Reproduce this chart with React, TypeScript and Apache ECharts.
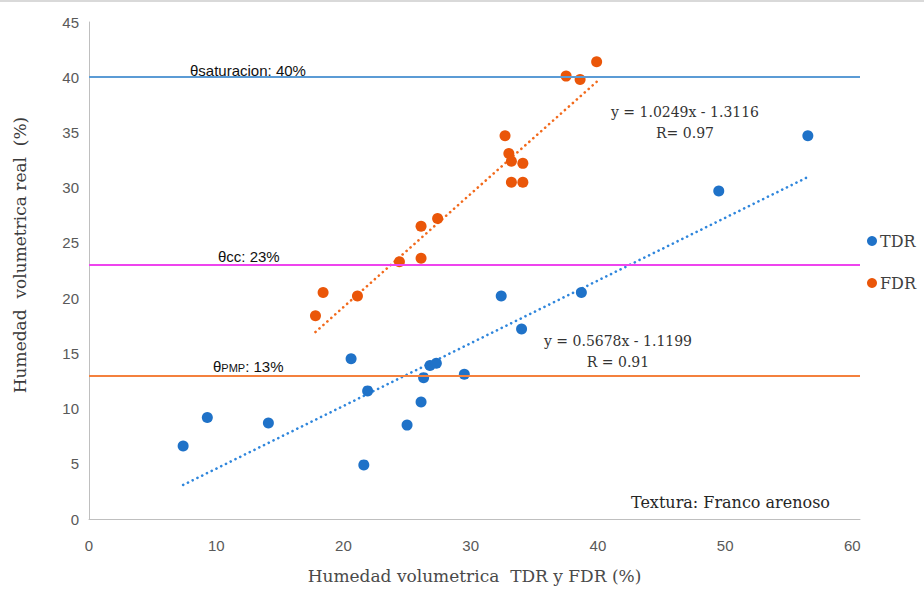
import React, { useEffect, useRef } from "react";
import * as echarts from "echarts";

// Humedad volumétrica medida con TDR y FDR frente a la humedad real (%)
const tdrX = [7.4, 9.3, 14.1, 20.6, 21.9, 21.6, 25.0, 26.1, 26.3, 26.8, 27.3, 29.5, 32.4, 34.0, 38.7, 49.5, 56.5];
const tdrY = [6.6, 9.2, 8.7, 14.5, 11.6, 4.9, 8.5, 10.6, 12.8, 13.9, 14.1, 13.1, 20.2, 17.2, 20.5, 29.7, 34.7];
const fdrX = [17.8, 18.4, 21.1, 24.4, 26.1, 26.1, 27.4, 32.7, 33.0, 33.2, 34.1, 33.2, 34.1, 37.5, 38.6, 39.9];
const fdrY = [18.4, 20.5, 20.2, 23.3, 23.6, 26.5, 27.2, 34.7, 33.1, 32.4, 32.2, 30.5, 30.5, 40.1, 39.8, 41.4];

// Ajustes lineales (pendiente, intercepto) y coeficiente R
const tdrFit = [0.5678, -1.1199];
const fdrFit = [1.0249, -1.3116];
const tdrR = "0.91";
const fdrR = "0.97";

// Umbrales de humedad del suelo (%)
const thetaLevels = [40, 23, 13];
const thetaNames = ["saturacion", "cc", "PMP"];
const thetaColors = ["#5b9bd5", "#ee44ee", "#f4813e"];

const BLUE = "#1f72c8";
const ORANGE = "#ea5609";

const fitLine = (xs: number[], fit: number[]) => {
  const lo = Math.min(...xs);
  const hi = Math.max(...xs);
  return [
    [lo, fit[0] * lo + fit[1]],
    [hi, fit[0] * hi + fit[1]],
  ];
};

const fmtEq = (fit: number[]) =>
  `y = ${fit[0].toFixed(4)}x - ${Math.abs(fit[1]).toFixed(4)}`;

export default function App() {
  const ref = useRef<HTMLDivElement>(null);

  useEffect(() => {
    if (!ref.current) return;
    const chart = echarts.init(ref.current, null, { renderer: "svg" });
    const serif = "DejaVu Serif";
    const sans = "Liberation Sans";

    chart.setOption({
      animation: false,
      backgroundColor: "#ffffff",
      grid: { left: 89, right: 64, top: 22, bottom: 68, containLabel: false },
      legend: {
        orient: "vertical",
        left: 862,
        top: 228,
        itemGap: 26,
        itemWidth: 10,
        itemHeight: 10,
        data: [
          { name: "TDR", icon: "circle" },
          { name: "FDR", icon: "circle" },
        ],
        textStyle: { fontFamily: serif, fontSize: 16, color: "#404040", padding: [0, 0, 0, -2] },
      },
      xAxis: {
        type: "value",
        min: 0,
        max: 60.6,
        interval: 10,
        name: "Humedad volumetrica  TDR y FDR (%)",
        nameLocation: "middle",
        nameGap: 48,
        nameTextStyle: { fontFamily: serif, fontSize: 17, color: "#4a4a4a" },
        axisLine: { show: true, lineStyle: { color: "#bfbfbf", width: 1 } },
        axisTick: { show: false },
        splitLine: { show: false },
        axisLabel: {
          fontFamily: sans,
          fontSize: 15,
          color: "#595959",
          margin: 19,
          formatter: (v: number) => (v % 10 === 0 ? String(v) : ""),
        },
      },
      yAxis: {
        type: "value",
        min: 0,
        max: 45,
        interval: 5,
        axisLine: { show: true, lineStyle: { color: "#bfbfbf", width: 1 } },
        axisTick: { show: false },
        splitLine: { show: false },
        axisLabel: { fontFamily: sans, fontSize: 15, color: "#595959", margin: 10 },
      },
      series: [
        {
          name: "umbrales",
          type: "line",
          data: fitLine(tdrX, tdrFit),
          showSymbol: false,
          silent: true,
          z: 1,
          lineStyle: { color: "rgba(0,0,0,0)", width: 0 },
          markLine: {
            silent: true,
            symbol: "none",
            label: { show: false },
            data: thetaLevels.map((v, i) => ({
              yAxis: v,
              lineStyle: { color: thetaColors[i], width: 1.8, type: "solid" },
            })),
          },
        },
        {
          name: "TDR ajuste",
          type: "line",
          data: fitLine(tdrX, tdrFit),
          showSymbol: false,
          silent: true,
          z: 2,
          lineStyle: { color: "#2f86dc", width: 2.6, type: [0.1, 5.2], cap: "round" },
        },
        {
          name: "FDR ajuste",
          type: "line",
          data: fitLine(fdrX, fdrFit),
          showSymbol: false,
          silent: true,
          z: 2,
          lineStyle: { color: "#f26a1c", width: 2.6, type: [0.1, 5.2], cap: "round" },
        },
        {
          name: "TDR",
          type: "scatter",
          symbolSize: 11,
          z: 3,
          itemStyle: { color: BLUE, opacity: 1 },
          data: tdrX.map((x, i) => [x, tdrY[i]]),
        },
        {
          name: "FDR",
          type: "scatter",
          symbolSize: 11,
          z: 3,
          itemStyle: { color: ORANGE, opacity: 1 },
          data: fdrX.map((x, i) => [x, fdrY[i]]),
        },
      ],
    });

    const px = (x: number, y: number) =>
      chart.convertToPixel({ xAxisIndex: 0, yAxisIndex: 0 }, [x, y]) as number[];

    const lvl0 = px(0, thetaLevels[0]);
    const lvl1 = px(0, thetaLevels[1]);
    const lvl2 = px(0, thetaLevels[2]);
    const labelFont = { fontFamily: sans, fontSize: 15, fill: "#111111" };

    chart.setOption({
      graphic: [
        {
          type: "line",
          shape: { x1: 0, y1: 1, x2: 924, y2: 1 },
          style: { stroke: "#d9d9d9", lineWidth: 2 },
          silent: true,
        },
        {
          type: "text",
          x: 20,
          y: 255,
          rotation: Math.PI / 2,
          style: {
            text: "Humedad  volumetrica real  (%)",
            fontFamily: serif,
            fontSize: 17,
            fill: "#3a3a3a",
            align: "center",
            verticalAlign: "middle",
          },
        },
        {
          type: "text",
          x: lvl0[0] + 101,
          y: lvl0[1] + 1,
          style: {
            text: `θ${thetaNames[0]}: ${thetaLevels[0]}%`,
            ...labelFont,
            verticalAlign: "bottom",
          },
        },
        {
          type: "text",
          x: lvl1[0] + 129,
          y: lvl1[1] - 1,
          style: {
            text: `θ${thetaNames[1]}: ${thetaLevels[1]}%`,
            ...labelFont,
            verticalAlign: "bottom",
          },
        },
        {
          type: "text",
          x: lvl2[0] + 124,
          y: lvl2[1] - 1,
          style: {
            text: `{a|θ}{b|${thetaNames[2]}}{a|: ${thetaLevels[2]}%}`,
            ...labelFont,
            verticalAlign: "bottom",
            rich: {
              a: { fontFamily: sans, fontSize: 15, fill: "#111111" },
              b: { fontFamily: sans, fontSize: 11, fill: "#111111", padding: [3, 0, 0, 0] },
            },
          },
        },
        {
          type: "text",
          x: 685,
          y: 101,
          style: {
            text: `${fmtEq(fdrFit)}\nR= ${fdrR}`,
            fontFamily: serif,
            fontSize: 14,
            lineHeight: 21,
            fill: "#333333",
            align: "center",
            verticalAlign: "top",
          },
        },
        {
          type: "text",
          x: 618,
          y: 330,
          style: {
            text: `${fmtEq(tdrFit)}\nR = ${tdrR}`,
            fontFamily: serif,
            fontSize: 14,
            lineHeight: 21,
            fill: "#333333",
            align: "center",
            verticalAlign: "top",
          },
        },
        {
          type: "text",
          x: 830,
          y: 502,
          style: {
            text: "Textura: Franco arenoso",
            fontFamily: serif,
            fontSize: 16,
            fill: "#262626",
            align: "right",
            verticalAlign: "middle",
          },
        },
      ],
    });

    return () => chart.dispose();
  }, []);

  return (
    <div
      ref={ref}
      style={{ position: "fixed", left: 0, top: 0, width: 924, height: 589, background: "#fff" }}
    />
  );
}
